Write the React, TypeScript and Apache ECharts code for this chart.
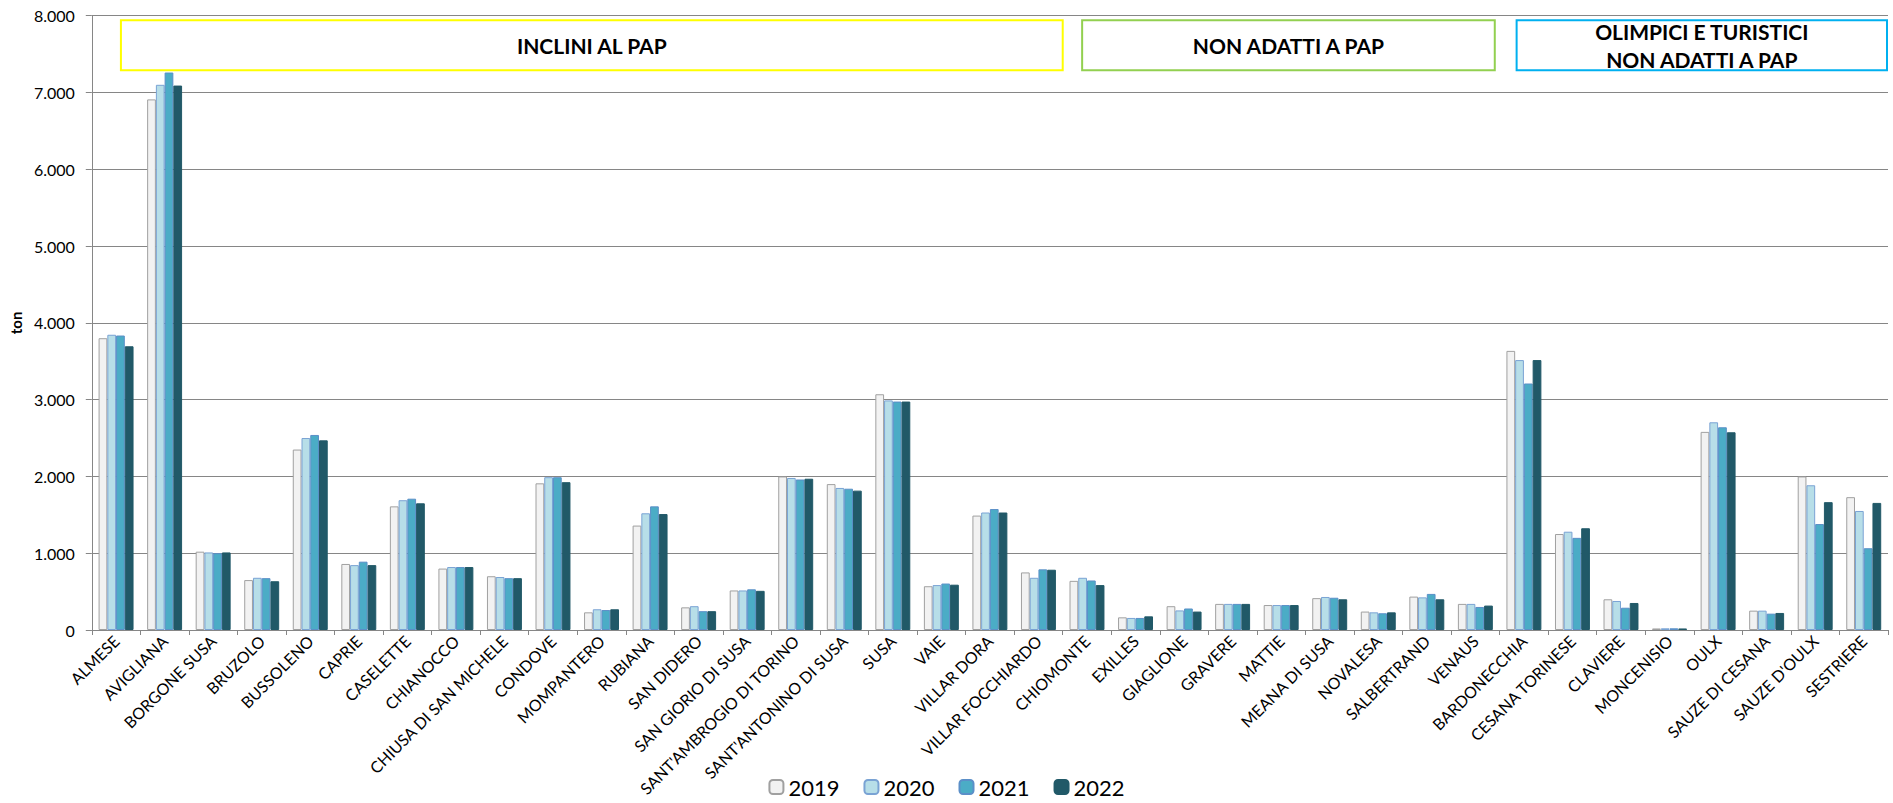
import React, { useEffect, useRef } from "react";
import * as echarts from "echarts";

const categories = [
  "ALMESE", "AVIGLIANA", "BORGONE SUSA", "BRUZOLO", "BUSSOLENO", "CAPRIE", "CASELETTE",
  "CHIANOCCO", "CHIUSA DI SAN MICHELE", "CONDOVE", "MOMPANTERO", "RUBIANA", "SAN DIDERO",
  "SAN GIORIO DI SUSA", "SANT'AMBROGIO DI TORINO", "SANT'ANTONINO DI SUSA", "SUSA", "VAIE",
  "VILLAR DORA", "VILLAR FOCCHIARDO", "CHIOMONTE", "EXILLES", "GIAGLIONE", "GRAVERE", "MATTIE",
  "MEANA DI SUSA", "NOVALESA", "SALBERTRAND", "VENAUS", "BARDONECCHIA", "CESANA TORINESE",
  "CLAVIERE", "MONCENISIO", "OULX", "SAUZE DI CESANA", "SAUZE D'OULX", "SESTRIERE",
];

const years = ["2019", "2020", "2021", "2022"];

const values2019 = [3800, 6910, 1020, 650, 2350, 860, 1610, 800, 700, 1910, 230, 1360, 295, 515, 2000, 1900, 3070, 570, 1490, 750, 640, 165, 310, 340, 325, 415, 240, 435, 340, 3635, 1250, 400, 20, 2580, 252, 2000, 1730];
const values2020 = [3845, 7100, 1010, 680, 2500, 845, 1690, 820, 690, 1990, 270, 1520, 310, 515, 1980, 1850, 2990, 585, 1530, 680, 680, 157, 255, 340, 325, 430, 230, 425, 340, 3515, 1280, 378, 22, 2705, 252, 1885, 1550];
const values2021 = [3835, 7260, 1000, 675, 2540, 890, 1710, 820, 675, 1990, 260, 1610, 245, 530, 1960, 1840, 2975, 605, 1575, 790, 645, 157, 280, 340, 325, 420, 218, 470, 300, 3210, 1200, 290, 22, 2640, 213, 1380, 1065];
const values2022 = [3695, 7090, 1010, 635, 2470, 845, 1650, 820, 675, 1925, 270, 1510, 245, 510, 1970, 1815, 2975, 590, 1530, 785, 585, 178, 240, 340, 325, 400, 230, 400, 318, 3515, 1325, 352, 20, 2575, 222, 1665, 1655];

const yTicks = { min: 0, max: 8000, interval: 1000 };

// Group annotation boxes (band positions in category units, value range of box)
const groupLabels = ["INCLINI AL PAP", "NON ADATTI A PAP", "OLIMPICI E TURISTICI\nNON ADATTI A PAP"];
const groupStart = [0.6, 20.4, 29.35];
const groupEnd = [20, 28.9, 37];
const groupColors = ["#FFFF00", "#92D050", "#00B0F0"];
const boxValueTop = 7940;
const boxValueBottom = 7290;

const seriesStyles = [
  { fill: "#F2F2F2", border: "#A0A0A0" },
  { fill: "#B7DEE8", border: "#7AA3D4" },
  { fill: "#4BACC6", border: "#5B8FC8" },
  { fill: "#215968", border: "#215968" },
];

const FONT = "Lato, 'Open Sans', sans-serif";

function fmt(v: number): string {
  return String(v).replace(/\B(?=(\d{3})+(?!\d))/g, ".");
}

export default function App() {
  const ref = useRef<HTMLDivElement>(null);

  useEffect(() => {
    if (!ref.current) return;
    const chart = echarts.init(ref.current, null, { renderer: "svg" });
    const allValues = [values2019, values2020, values2021, values2022];

    chart.setOption({
      animation: false,
      backgroundColor: "#ffffff",
      textStyle: { fontFamily: FONT },
      grid: { left: 88, right: 5, top: 15.7, bottom: 173, containLabel: false },
      legend: {
        bottom: 0,
        left: "center",
        itemWidth: 14,
        itemHeight: 14,
        itemGap: 24,
        textStyle: { fontSize: 22, color: "#000", fontFamily: FONT },
        data: years,
      },
      xAxis: {
        type: "category",
        data: categories,
        axisLine: { show: true, lineStyle: { color: "#868686", width: 1 } },
        axisTick: { show: true, length: 5, lineStyle: { color: "#868686" } },
        axisLabel: {
          interval: 0,
          rotate: 45,
          fontSize: 16,
          color: "#000",
          fontFamily: FONT,
          margin: 8,
        },
        splitLine: { show: false },
      },
      yAxis: {
        type: "value",
        min: yTicks.min,
        max: yTicks.max,
        interval: yTicks.interval,
        name: "ton",
        nameLocation: "middle",
        nameGap: 68,
        nameTextStyle: { fontSize: 15, fontWeight: "bold", color: "#000", fontFamily: FONT },
        axisLine: { show: true, lineStyle: { color: "#868686", width: 1 } },
        axisTick: { show: true, length: 6, lineStyle: { color: "#868686" } },
        axisLabel: {
          fontSize: 16,
          color: "#000",
          fontFamily: FONT,
          margin: 17,
          formatter: (v: number) => fmt(v),
        },
        splitLine: { show: true, lineStyle: { color: "#868686", width: 1 } },
      },
      series: years.map((y, i) => ({
        name: y,
        type: "bar",
        data: allValues[i],
        barGap: "0%",
        barCategoryGap: "28%",
        itemStyle: {
          color: seriesStyles[i].fill,
          borderColor: seriesStyles[i].border,
          borderWidth: 1,
        },
        emphasis: { disabled: true },
      })),
    });

    const x0 = chart.convertToPixel({ xAxisIndex: 0 }, categories[0]) as number;
    const x1 = chart.convertToPixel({ xAxisIndex: 0 }, categories[1]) as number;
    const bw = x1 - x0;
    const leftEdge = x0 - bw / 2;
    const yTop = chart.convertToPixel({ yAxisIndex: 0 }, boxValueTop) as number;
    const yBot = chart.convertToPixel({ yAxisIndex: 0 }, boxValueBottom) as number;

    const graphics: any[] = [];
    groupLabels.forEach((label, i) => {
      const xs = leftEdge + groupStart[i] * bw;
      const xe = Math.min(leftEdge + groupEnd[i] * bw, 1893 - 6);
      graphics.push({
        type: "rect",
        shape: { x: xs, y: yTop, width: xe - xs, height: yBot - yTop },
        style: { fill: "#ffffff", stroke: groupColors[i], lineWidth: 2 },
        z: 10,
      });
      graphics.push({
        type: "text",
        x: (xs + xe) / 2,
        y: (yTop + yBot) / 2,
        style: {
          text: label,
          fill: "#000",
          fontSize: 21,
          fontWeight: "bold",
          fontFamily: FONT,
          align: "center",
          verticalAlign: "middle",
          lineHeight: 28,
        },
        z: 11,
      });
    });
    chart.setOption({ graphic: graphics });

    return () => chart.dispose();
  }, []);

  return (
    <div
      ref={ref}
      style={{ position: "absolute", left: 0, top: 0, width: 1893, height: 803 }}
    />
  );
}
